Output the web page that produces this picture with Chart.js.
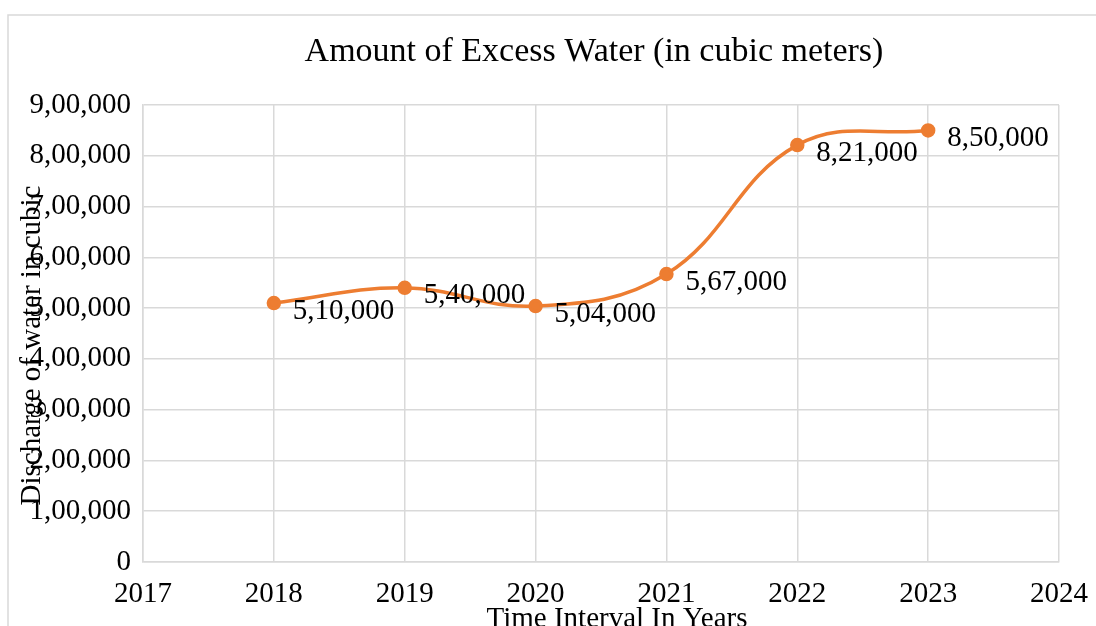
<!DOCTYPE html>
<html lang="en">
<head>
    <meta charset="UTF-8">
    <title>Amount of Excess Water</title>
    <script src="https://cdn.jsdelivr.net/npm/chart.js"></script>
    <style>
        body { margin: 0; background: #fff; }
        #chart-container { width: 1096px; height: 626px; }
    </style>
</head>
<body>
<div id="chart-container">
    <canvas id="waterChart"></canvas>
</div>

<script>
    // data
    const years = [2018, 2019, 2020, 2021, 2022, 2023];
    const excessWater = [510000, 540000, 504000, 567000, 821000, 850000];
    const xRange = [2017, 2024];
    const yTicks = [0, 100000, 200000, 300000, 400000, 500000, 600000, 700000, 800000, 900000];

    const chartTitle = 'Amount of Excess Water (in cubic meters)';
    const xTitle = 'Time Interval In Years';
    const yTitle = 'Discharge of water in cubic';

    const serif = '"Liberation Serif", "Times New Roman", serif';
    const gridColor = '#d9d9d9';
    const lineColor = '#ED7D31';
    const fontSize = 29;

    // Indian digit grouping: 9,00,000
    function formatIN(v) {
        const s = String(Math.round(v));
        if (s.length <= 3) return s;
        const last3 = s.slice(-3);
        const rest = s.slice(0, -3).replace(/\B(?=(\d{2})+(?!\d))/g, ',');
        return rest + ',' + last3;
    }

    // outer frame, titles and point labels
    const extras = {
        id: 'extras',
        beforeDraw(chart) {
            const ctx = chart.ctx;
            ctx.save();
            ctx.strokeStyle = gridColor;
            ctx.lineWidth = 1.5;
            ctx.beginPath();
            ctx.moveTo(8, chart.height);
            ctx.lineTo(8, 15);
            ctx.lineTo(chart.width, 15);
            ctx.stroke();
            ctx.restore();
        },
        afterDraw(chart) {
            const ctx = chart.ctx;
            const area = chart.chartArea;
            ctx.save();
            ctx.fillStyle = '#000';
            ctx.textAlign = 'center';
            ctx.textBaseline = 'middle';
            ctx.font = '34px ' + serif;
            ctx.fillText(chartTitle, 594, 52);
            ctx.font = fontSize + 'px ' + serif;
            ctx.fillText(xTitle, (area.left + area.right) / 2 + 16, 619);
            ctx.translate(32, (area.top + area.bottom) / 2 + 12);
            ctx.rotate(-Math.PI / 2);
            ctx.fillText(yTitle, 0, 0);
            ctx.restore();

            // data labels
            const meta = chart.getDatasetMeta(0);
            ctx.save();
            ctx.font = fontSize + 'px ' + serif;
            ctx.fillStyle = '#000';
            ctx.textAlign = 'left';
            ctx.textBaseline = 'middle';
            meta.data.forEach((pt, i) => {
                ctx.fillText(formatIN(excessWater[i]), pt.x + 19, pt.y + 8);
            });
            ctx.restore();
        }
    };

    const ctx = document.getElementById('waterChart').getContext('2d');
    const waterChart = new Chart(ctx, {
        type: 'line',
        data: {
            datasets: [{
                label: 'Excess water',
                data: years.map((y, i) => ({ x: y, y: excessWater[i] })),
                borderColor: lineColor,
                backgroundColor: lineColor,
                borderWidth: 3.5,
                tension: 0.4,
                pointRadius: 5.5,
                pointHoverRadius: 5.5,
                fill: false,
            }],
        },
        options: {
            responsive: true,
            maintainAspectRatio: false,
            animation: false,
            layout: { padding: { left: 0, right: 37, top: 105, bottom: 0 } },
            plugins: {
                legend: { display: false },
                tooltip: { enabled: false },
                title: { display: false },
            },
            scales: {
                x: {
                    type: 'linear',
                    min: xRange[0],
                    max: xRange[1],
                    afterFit: (s) => { s.height = 64; s.paddingLeft = 0; s.paddingRight = 0; },
                    afterBuildTicks: (s) => {
                        s.ticks = [];
                        for (let y = xRange[0]; y <= xRange[1]; y++) s.ticks.push({ value: y });
                    },
                    grid: { color: gridColor, lineWidth: 1.5, drawTicks: false },
                    border: { color: gridColor, width: 1.5 },
                    ticks: {
                        color: '#000',
                        font: { family: serif, size: fontSize },
                        padding: 15,
                        maxRotation: 0,
                        autoSkip: false,
                        callback: (v) => String(v),
                    },
                },
                y: {
                    min: yTicks[0],
                    max: yTicks[yTicks.length - 1],
                    afterFit: (s) => { s.width = 143; s.paddingTop = 0; s.paddingBottom = 0; },
                    afterBuildTicks: (s) => { s.ticks = yTicks.map(v => ({ value: v })); },
                    grid: { color: gridColor, lineWidth: 1.5, drawTicks: false },
                    border: { color: gridColor, width: 1.5 },
                    ticks: {
                        color: '#000',
                        font: { family: serif, size: fontSize },
                        padding: 12,
                        autoSkip: false,
                        callback: (v) => formatIN(v),
                    },
                },
            },
        },
        plugins: [extras],
    });
</script>
</body>
</html>
